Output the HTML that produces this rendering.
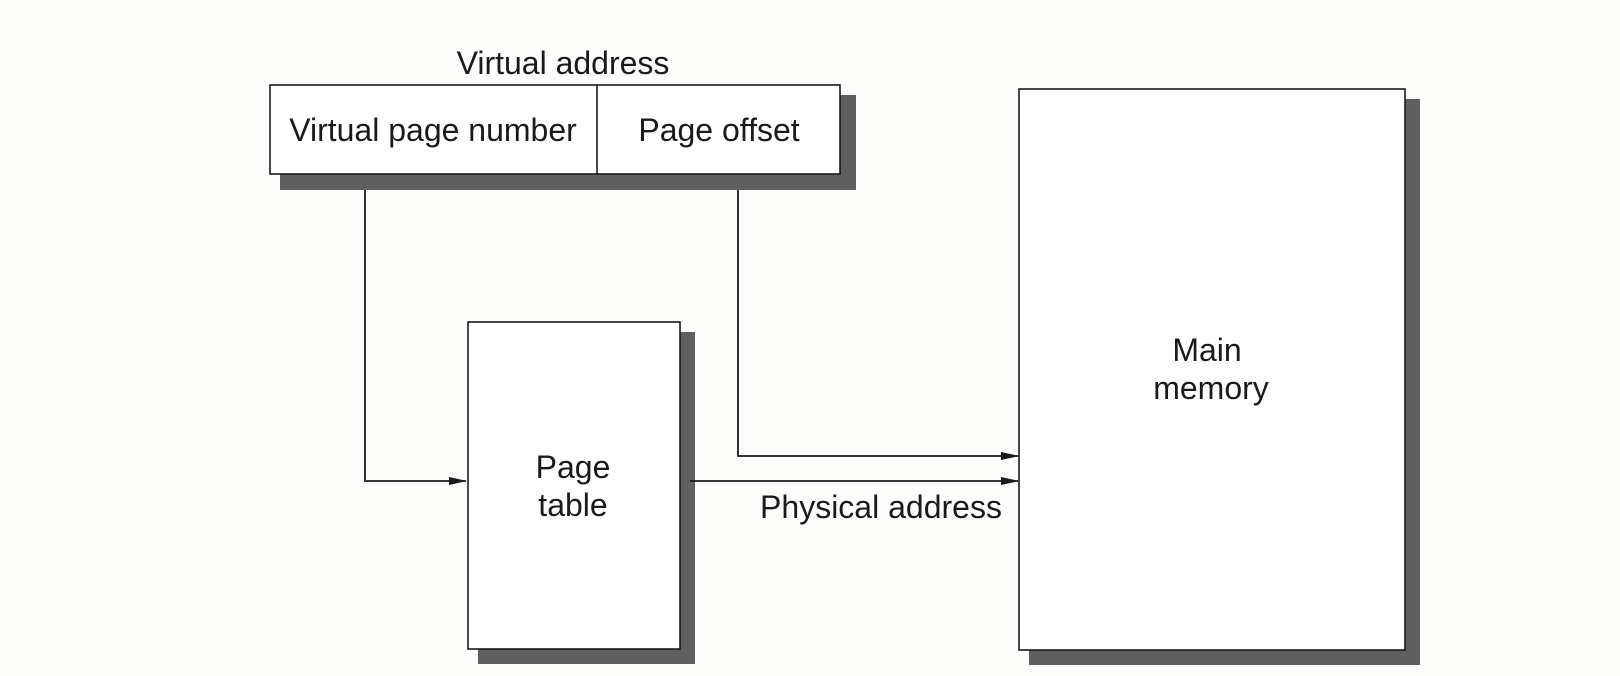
<!DOCTYPE html>
<html><head><meta charset="utf-8"><style>
html,body{margin:0;padding:0;background:#fdfdfb;}
svg{display:block;}
text{font-family:"Liberation Sans",Arial,sans-serif;font-size:32px;fill:#1a1a1a;text-anchor:middle;}
</style></head><body>
<svg width="1620" height="676" viewBox="0 0 1620 676" xmlns="http://www.w3.org/2000/svg">
<defs><marker id="a" markerWidth="18" markerHeight="8" refX="17" refY="4" orient="auto" markerUnits="userSpaceOnUse"><path d="M0,0 L18,4 L0,8 Z" fill="#1a1a1a"/></marker></defs>
<rect x="0" y="0" width="1620" height="676" fill="#fdfdfb"/>
<rect x="280" y="95" width="576" height="95" fill="#5f5f5f"/>
<rect x="478" y="332" width="217" height="332" fill="#5f5f5f"/>
<rect x="1029" y="99" width="391" height="566" fill="#5f5f5f"/>
<rect x="270" y="85" width="570" height="89" fill="#fff" stroke="#1a1a1a" stroke-width="1.6"/>
<line x1="597" y1="85" x2="597" y2="174" stroke="#1a1a1a" stroke-width="1.6"/>
<rect x="468" y="322" width="212" height="327" fill="#fff" stroke="#1a1a1a" stroke-width="1.6"/>
<rect x="1019" y="89" width="386" height="561" fill="#fff" stroke="#1a1a1a" stroke-width="1.6"/>
<polyline points="365,190 365,481 466,481" fill="none" stroke="#1a1a1a" stroke-width="1.8" marker-end="url(#a)"/>
<polyline points="738,190 738,456 1018,456" fill="none" stroke="#1a1a1a" stroke-width="1.8" marker-end="url(#a)"/>
<line x1="690" y1="481" x2="1018" y2="481" stroke="#1a1a1a" stroke-width="1.8" marker-end="url(#a)"/>
<text x="563" y="74">Virtual address</text>
<text x="433" y="141">Virtual page number</text>
<text x="719" y="141">Page offset</text>
<text x="573" y="478">Page</text>
<text x="573" y="516">table</text>
<text x="881" y="518">Physical address</text>
<text x="1207" y="361">Main</text>
<text x="1211" y="399">memory</text>
</svg>
</body></html>
